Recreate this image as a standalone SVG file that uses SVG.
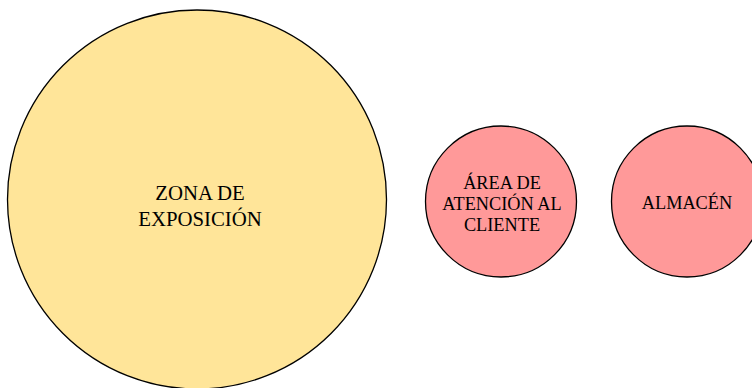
<svg xmlns="http://www.w3.org/2000/svg" width="752" height="388" viewBox="0 0 752 388">
<style>
.n{stroke:#000;stroke-width:1.3}
.t{font-family:"Liberation Serif","Times New Roman",serif;fill:#000;text-anchor:middle}
</style>
<rect width="752" height="388" fill="#fff"/>
<g id="connectors"></g>
<g id="zona">
<circle class="n" cx="197" cy="199.5" r="189.5" fill="#FFE599"/>
<text class="t" x="200" y="200" font-size="20.8">ZONA DE</text>
<text class="t" x="200" y="226" font-size="20.8">EXPOSICIÓN</text>
</g>
<g id="area">
<circle class="n" cx="501" cy="201.5" r="75.5" fill="#FF9999"/>
<text class="t" x="502" y="189" font-size="18.3">ÁREA DE</text>
<text class="t" x="502" y="210" font-size="18.3">ATENCIÓN AL</text>
<text class="t" x="502" y="231" font-size="18.3">CLIENTE</text>
</g>
<g id="almacen">
<circle class="n" cx="687" cy="201.5" r="75.5" fill="#FF9999"/>
<text class="t" x="687" y="209.3" font-size="18.3">ALMACÉN</text>
</g>
</svg>
